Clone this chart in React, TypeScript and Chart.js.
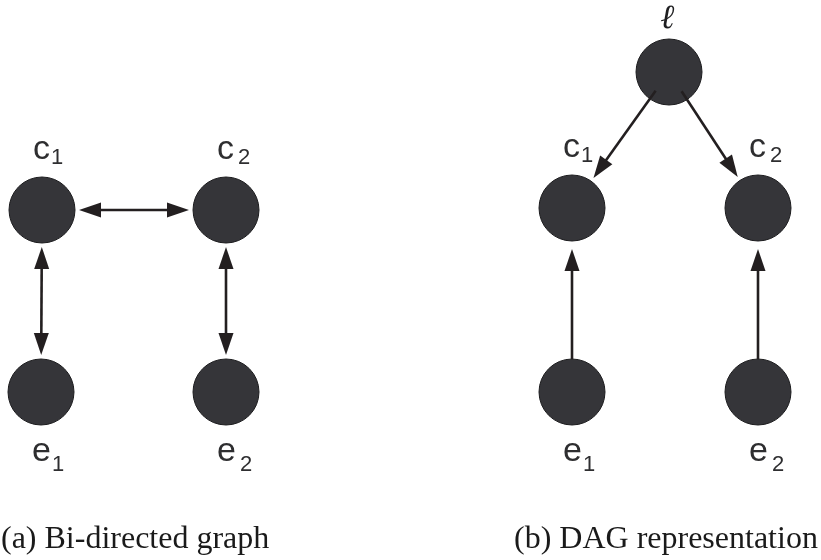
import React, { useEffect, useRef } from "react";
import { Chart, registerables } from "chart.js";

Chart.register(...registerables);

// Node data (graph coordinates)
const nodeIds = ["c1a", "c2a", "e1a", "e2a", "l", "c1b", "c2b", "e1b", "e2b"];
const nodeX = [42, 226, 41, 226, 669, 572, 758, 572, 758];
const nodeY = [210, 210, 392, 392, 72, 208, 208, 392, 392];
const nodeLetter = ["c", "c", "e", "e", "ℓ", "c", "c", "e", "e"];
const nodeSub = ["1", "2", "1", "2", "", "1", "2", "1", "2"];

// Edges
const edgeFrom = ["c1a", "c1a", "c2a", "l", "l", "e1b", "e2b"];
const edgeTo = ["c2a", "e1a", "e2a", "c1b", "c2b", "c1b", "c2b"];
const edgeBoth = [true, true, true, false, false, false, false];

// Captions
const captions = ["(a) Bi-directed graph", "(b) DAG representation"];

const NODE_R = 33;
const INK = "#231f20";

const graphPlugin = {
  id: "graphDecor",
  afterDatasetsDraw(chart: any) {
    const ctx = chart.ctx as CanvasRenderingContext2D;
    const xs = chart.scales.x;
    const ys = chart.scales.y;
    const px = (i: number) => xs.getPixelForValue(nodeX[i]);
    const py = (i: number) => ys.getPixelForValue(nodeY[i]);
    const idx = (id: string) => nodeIds.indexOf(id);

    const head = (tx: number, ty: number, ux: number, uy: number) => {
      const L = 22, W = 7.5;
      const bx = tx - ux * L, by = ty - uy * L;
      ctx.beginPath();
      ctx.moveTo(tx, ty);
      ctx.lineTo(bx - uy * W, by + ux * W);
      ctx.lineTo(bx + uy * W, by - ux * W);
      ctx.closePath();
      ctx.fill();
    };

    ctx.save();
    ctx.strokeStyle = INK;
    ctx.fillStyle = INK;
    ctx.lineWidth = 2.6;
    for (let k = 0; k < edgeFrom.length; k++) {
      const a = idx(edgeFrom[k]);
      const b = idx(edgeTo[k]);
      const ax = px(a), ay = py(a), bx = px(b), by = py(b);
      const dx = bx - ax, dy = by - ay;
      const len = Math.hypot(dx, dy);
      const ux = dx / len, uy = dy / len;
      let s: number, e: number;
      if (edgeBoth[k]) {
        s = 37; e = 37;
      } else if (Math.abs(ux) > 0.1) {
        s = 23; e = 37;
      } else {
        s = NODE_R; e = 41;
      }
      const sx = ax + ux * s, sy = ay + uy * s;
      const tx = bx - ux * e, ty = by - uy * e;
      const hl = 20;
      ctx.beginPath();
      ctx.moveTo(edgeBoth[k] ? sx + ux * hl : sx, edgeBoth[k] ? sy + uy * hl : sy);
      ctx.lineTo(tx - ux * hl, ty - uy * hl);
      ctx.stroke();
      head(tx, ty, ux, uy);
      if (edgeBoth[k]) head(sx, sy, -ux, -uy);
    }

    // node labels
    ctx.fillStyle = "#2e2e30";
    ctx.textBaseline = "alphabetic";
    for (let i = 0; i < nodeIds.length; i++) {
      const x = px(i), y = py(i);
      const letter = nodeLetter[i];
      if (letter === "ℓ") {
        ctx.font = 'italic bold 34px "DejaVu Serif"';
        ctx.fillStyle = "#1e1e20";
        ctx.textAlign = "center";
        ctx.fillText(letter, x - 1, y - 44);
        ctx.fillStyle = "#2e2e30";
        continue;
      }
      ctx.textAlign = "left";
      const above = letter === "c";
      const base = above ? y - 51 : y + 69;
      ctx.font = '34px "Liberation Sans"';
      const lx = x - 9;
      ctx.fillText(letter, lx, base);
      const w = ctx.measureText(letter).width;
      ctx.font = '22px "Liberation Sans"';
      const gap = nodeSub[i] === "2" ? 4 : 1;
      ctx.fillText(nodeSub[i], lx + w + gap, base + (above ? 5 : 10));
    }

    // captions
    ctx.font = '32px "Liberation Serif"';
    ctx.fillStyle = "#1a1a1a";
    ctx.textAlign = "left";
    ctx.fillText(captions[0], 1, 548);
    ctx.fillText(captions[1], 514, 548);
    ctx.restore();
  },
};

export default function App() {
  const ref = useRef<HTMLCanvasElement | null>(null);
  useEffect(() => {
    if (!ref.current) return;
    const chart = new Chart(ref.current, {
      type: "scatter",
      data: {
        datasets: [
          {
            data: nodeX.map((x, i) => ({ x, y: nodeY[i] })),
            pointRadius: NODE_R,
            pointHoverRadius: NODE_R,
            backgroundColor: "#353539",
            borderColor: "#1c1c1e",
            borderWidth: 1,
            pointHoverBorderWidth: 1,
            clip: false,
          },
        ],
      },
      options: {
        animation: false,
        responsive: true,
        maintainAspectRatio: false,
        events: [],
        layout: { padding: 0, autoPadding: false },
        plugins: { legend: { display: false }, tooltip: { enabled: false } },
        scales: {
          x: { type: "linear", min: 0, max: 821, display: false },
          y: { type: "linear", min: 0, max: 560, reverse: true, display: false },
        },
      },
      plugins: [graphPlugin],
    });
    return () => chart.destroy();
  }, []);
  return (
    <div style={{ position: "fixed", left: 0, top: 0, width: 821, height: 560, background: "#fff" }}>
      <canvas ref={ref} />
    </div>
  );
}
